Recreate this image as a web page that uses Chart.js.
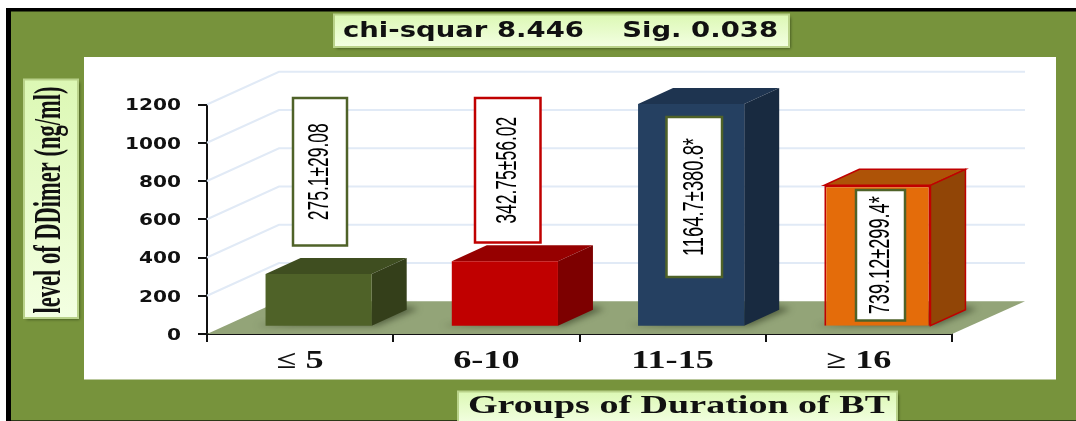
<!DOCTYPE html>
<html><head><meta charset="utf-8">
<style>html,body{margin:0;padding:0;background:#fff}canvas{display:block;filter:blur(0.5px)}</style>
<script src="https://cdn.jsdelivr.net/npm/chart.js@4"></script>
</head><body><canvas id="c" width="1076" height="421"></canvas>
<script>
const categories = ['≤ 5', '6-10', '11-15', '≥ 16'];
const meanValues = [275.1, 342.75, 1164.7, 739.12];
const valueLabels = ['275.1±29.08', '342.75±56.02', '1164.7±380.8*', '739.12±299.4*'];
const yTicks = [0, 200, 400, 600, 800, 1000, 1200];
const chartTitle = 'chi-squar 8.446    Sig. 0.038';
const xTitle = 'Groups of Duration of BT';
const yTitle = 'level of DDimer (ng/ml)';

const frontColors = ['#4f6228', '#c00000', '#254061', '#e46c0a'];
const topColors = ['#3f4e20', '#960000', '#1e3450', '#ae5307'];
const sideColors = ['#343f1a', '#7d0000', '#182a40', '#914506'];
const edgeColors = ['#4f6228', '#c00000', '#254061', '#c00000'];
const boxEdges = ['#4f6228', '#c00000', '#4f6228', '#4f6228'];
// value-label box layout: x0, x1, y0, y1, text length
const boxes = [
  [293, 347, 98, 245.5, 97],
  [475, 540.5, 98, 242.5, 107],
  [666.5, 722, 117, 277, 118],
  [856, 905, 190, 320.5, 118]
];
const wall = {dx: 72, dy: -32.7, right: 1025};
const barShift = {x: 18.5, y: -7.3};
const barDepth = {x: 35, y: -16};

function fitText(ctx, text, cx, cy, width, font, color) {
  ctx.save();
  ctx.font = font;
  ctx.fillStyle = color || '#000';
  ctx.textAlign = 'center';
  ctx.textBaseline = 'middle';
  ctx.translate(cx, cy);
  ctx.scale(width / ctx.measureText(text).width, 1);
  ctx.fillText(text, 0, 0);
  ctx.restore();
}
function poly(ctx, pts, fill, stroke, lw) {
  ctx.beginPath();
  pts.forEach((p, i) => i ? ctx.lineTo(p[0], p[1]) : ctx.moveTo(p[0], p[1]));
  ctx.closePath();
  ctx.fillStyle = fill;
  ctx.fill();
  if (stroke) { ctx.strokeStyle = stroke; ctx.lineWidth = lw; ctx.stroke(); }
}
function softBox(ctx, x0, y0, x1, y1) {
  ctx.save();
  ctx.shadowColor = 'rgba(40,55,15,.75)';
  ctx.shadowBlur = 3;
  ctx.shadowOffsetX = 1.5;
  ctx.shadowOffsetY = 2;
  const g = ctx.createLinearGradient(0, y0, 0, y1);
  g.addColorStop(0, '#dcf8b4');
  g.addColorStop(1, '#f3ffe2');
  ctx.fillStyle = g;
  ctx.fillRect(x0, y0, x1 - x0, y1 - y0);
  ctx.restore();
  ctx.strokeStyle = '#b9d28a';
  ctx.lineWidth = 2;
  ctx.strokeRect(x0, y0, x1 - x0, y1 - y0);
}

const scene = {
  id: 'scene',
  beforeDraw(chart) {
    const ctx = chart.ctx;
    ctx.save();
    ctx.fillStyle = '#fff';
    ctx.fillRect(0, 0, 1076, 421);
    ctx.fillStyle = '#77933c';
    ctx.fillRect(6, 8, 1070, 413);
    ctx.fillStyle = '#000';
    ctx.fillRect(6, 8, 1070, 3.5);
    ctx.fillRect(6, 8, 5, 413);
    ctx.fillStyle = '#2c3a18';
    ctx.fillRect(11, 420, 1065, 1);
    ctx.fillStyle = '#fff';
    ctx.fillRect(84, 57, 972, 322.5);

    softBox(ctx, 334, 14.5, 789, 47);
    fitText(ctx, chartTitle, 560.5, 31, 435, 'bold 22px "DejaVu Sans"', '#111');
    softBox(ctx, 24, 79.5, 78, 318);
    ctx.save();
    ctx.translate(50, 200);
    ctx.rotate(-Math.PI / 2);
    fitText(ctx, yTitle, 0, 0, 227, 'bold 38px "Liberation Serif"', '#111');
    ctx.restore();
    softBox(ctx, 458, 391.5, 897, 424);
    fitText(ctx, xTitle, 679, 406, 422, 'bold 26px "Liberation Serif"', '#111');
    ctx.restore();
  },
  beforeDatasetsDraw(chart) {
    const ctx = chart.ctx, ys = chart.scales.y, xs = chart.scales.x;
    ctx.save();
    ctx.strokeStyle = '#e1eaf6';
    ctx.lineWidth = 2;
    yTicks.filter(v => v > 0).forEach(v => {
      const py = ys.getPixelForValue(v);
      ctx.beginPath();
      ctx.moveTo(xs.left, py);
      ctx.lineTo(xs.left + wall.dx, py + wall.dy);
      ctx.lineTo(wall.right, py + wall.dy);
      ctx.stroke();
    });
    const y0 = ys.getPixelForValue(0);
    poly(ctx, [[xs.left, y0], [xs.left + wall.dx, y0 + wall.dy], [wall.right, y0 + wall.dy], [xs.right, y0]], '#93a478');
    // soft shadows on the floor
    const meta = chart.getDatasetMeta(0);
    ctx.filter = 'blur(3px)';
    meta.data.forEach(b => {
      const p = b.getProps(['x', 'base', 'width'], true);
      const l = p.x + barShift.x - p.width / 2, r = l + p.width, by = p.base + barShift.y;
      poly(ctx, [[l - 10, by], [r + 6, by], [r + barDepth.x + 12, by + barDepth.y - 1], [r + barDepth.x - 4, by + barDepth.y - 4]], 'rgba(45,55,30,.6)');
    });
    ctx.filter = 'none';
    ctx.restore();
    ctx.save();
    ctx.translate(barShift.x, barShift.y);
    meta.data.forEach((b, i) => {
      const p = b.getProps(['x', 'y', 'base', 'width'], true);
      const l = p.x - p.width / 2, r = l + p.width, t = p.y, bt = p.base;
      const e = i === 3 ? edgeColors[i] : null;
      poly(ctx, [[l, t], [r, t], [r + barDepth.x, t + barDepth.y], [l + barDepth.x, t + barDepth.y]], topColors[i], e, 1.5);
      poly(ctx, [[r, t], [r + barDepth.x, t + barDepth.y], [r + barDepth.x, bt + barDepth.y], [r, bt]], sideColors[i], e, 1.5);
    });
  },
  afterDatasetsDraw(chart) {
    const ctx = chart.ctx, ys = chart.scales.y, xs = chart.scales.x;
    ctx.restore();
    ctx.save();
    boxes.forEach((b, i) => {
      ctx.fillStyle = '#fff';
      ctx.fillRect(b[0], b[2], b[1] - b[0], b[3] - b[2]);
      ctx.strokeStyle = boxEdges[i];
      ctx.lineWidth = 2.5;
      ctx.strokeRect(b[0], b[2], b[1] - b[0], b[3] - b[2]);
      ctx.save();
      ctx.translate((b[0] + b[1]) / 2, (b[2] + b[3]) / 2);
      ctx.rotate(-Math.PI / 2);
      fitText(ctx, valueLabels[i], 0, 0, b[4], '30px "Liberation Sans"', '#000');
      ctx.restore();
    });
    // tick labels, placed by the library's scales
    ctx.textBaseline = 'middle';
    yTicks.forEach(v => {
      const py = ys.getPixelForValue(v), t = String(v);
      ctx.save();
      ctx.font = 'bold 16.5px "DejaVu Sans"';
      ctx.fillStyle = '#111';
      ctx.textAlign = 'right';
      ctx.translate(181, py + 1.5);
      ctx.scale(1.22, 1);
      ctx.fillText(t, 0, 0);
      ctx.restore();
    });
    categories.forEach((c, i) => {
      const px = xs.getPixelForValue(i);
      ctx.save();
      ctx.font = 'bold 25px "Liberation Serif"';
      ctx.fillStyle = '#111';
      ctx.textAlign = 'center';
      ctx.translate(px, 361.5);
      ctx.scale(1.45, 1);
      ctx.fillText(c, 0, 0);
      ctx.restore();
    });
    ctx.restore();
  }
};

new Chart(document.getElementById('c'), {
  type: 'bar',
  data: {
    labels: categories,
    datasets: [{
      data: meanValues,
      backgroundColor: frontColors,
      borderColor: edgeColors,
      borderWidth: [0, 0, 0, 2],
      barPercentage: 0.57,
      categoryPercentage: 1
    }]
  },
  options: {
    responsive: false,
    animation: false,
    layout: {padding: {left: 207, right: 124, top: 104.5, bottom: 87}},
    plugins: {legend: {display: false}, title: {display: false}, tooltip: {enabled: false}},
    scales: {
      x: {
        z: 1,
        afterFit: s => { s.height = 0; },
        border: {color: '#111', width: 2},
        grid: {drawOnChartArea: false, color: '#111', lineWidth: 2, tickLength: 8},
        ticks: {display: false}
      },
      y: {
        z: 1,
        min: 0, max: 1200,
        afterFit: s => { s.width = 0; },
        border: {color: '#111', width: 2},
        grid: {drawOnChartArea: false, color: '#111', lineWidth: 2, tickLength: 9},
        ticks: {display: false, stepSize: 200}
      }
    }
  },
  plugins: [scene]
});
</script></body></html>
